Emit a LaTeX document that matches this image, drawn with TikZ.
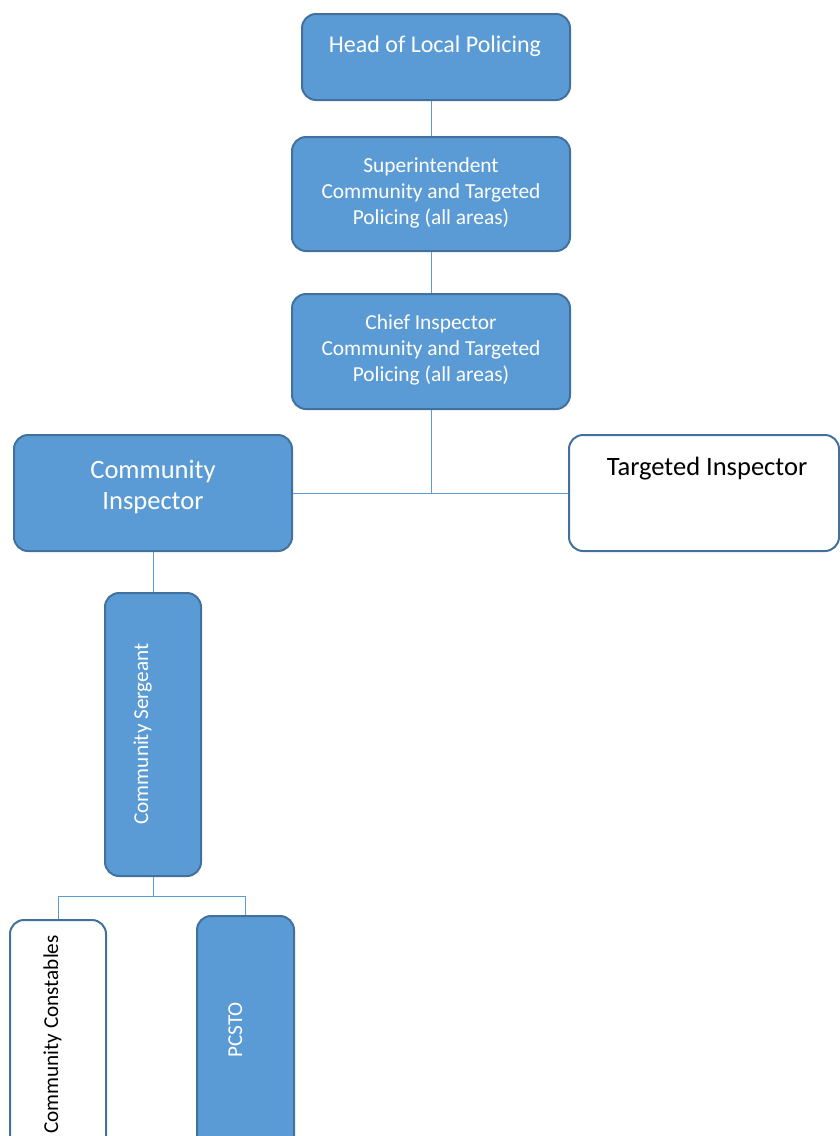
\documentclass[tikz,border=0pt]{standalone}
\usepackage{fontspec}
\setmainfont{Carlito}
\definecolor{boxblue}{HTML}{5B9BD5}
\definecolor{edgeblue}{HTML}{41719C}

\begin{document}
\begin{tikzpicture}[
    x=1pt, y=-1pt,
    box/.style={draw=edgeblue, line width=2pt, rounded corners=14pt,
      fill=boxblue, inner sep=0pt},
    plainbox/.style={box, fill=white},
    wtxt/.style={text=white, align=center, inner sep=0pt},
    btxt/.style={text=black, align=center, inner sep=0pt},
    link/.style={draw=boxblue, line width=1pt}
  ]
    \useasboundingbox (0,0) rectangle (840,1136);
    % boxes
    \node[box, minimum width=268pt, minimum height=86pt] (head) at (436,57) {};
    \node[box, minimum width=278pt, minimum height=114pt] (super) at (431,194) {};
    \node[box, minimum width=278pt, minimum height=115pt] (chief) at (431,351.5) {};
    \node[box, minimum width=278pt, minimum height=116pt] (cinsp) at (153,493) {};
    \node[plainbox, minimum width=270pt, minimum height=116pt] (tinsp) at (704,493) {};
    \node[box, minimum width=96pt, minimum height=283pt] (serg) at (153,734.5) {};
    \node[plainbox, minimum width=96pt, minimum height=260pt] (const) at (58,1050) {};
    \node[box, minimum width=97pt, minimum height=264pt] (pcsto) at (245.5,1048) {};
    % texts
    \node[wtxt, anchor=base, font=\fontsize{24}{29}\selectfont] (headtxt) at (435,52) {Head of Local Policing};
    \node[wtxt, font=\fontsize{21.4}{26}\selectfont] (supertxt) at (431,193) {Superintendent\\Community and Targeted\\Policing (all areas)};
    \node[wtxt, font=\fontsize{21.4}{26}\selectfont] (chieftxt) at (431,350) {Chief Inspector\\Community and Targeted\\Policing (all areas)};
    \node[wtxt, font=\fontsize{26.5}{31}\selectfont] (cinsptxt) at (153,487) {Community\\Inspector};
    \node[btxt, anchor=base, font=\fontsize{26.5}{31}\selectfont] (tinsptxt) at (707,475) {Targeted Inspector};
    \node[wtxt, rotate=90, anchor=base, font=\fontsize{21.2}{25}\selectfont] (sergtxt) at (148,734) {Community Sergeant};
    \node[btxt, rotate=90, anchor=base east, font=\fontsize{21.2}{25}\selectfont] (consttxt) at (58,935) {Community Constables};
    \node[wtxt, rotate=90, anchor=base, font=\fontsize{21.2}{25}\selectfont] (pcstotxt) at (242,1030) {PCSTO};
    % connectors
    \coordinate (fork) at (153,896);
    \draw[link] (super.north |- head.south) -- (super.north);
    \draw[link] (super) -- (chief);
    \draw[link] (chief.south) -- (chief.south |- cinsp.east);
    \draw[link] (cinsp) -- (tinsp);
    \draw[link] (cinsp) -- (serg);
    \draw[link] (serg.south) -- (fork);
    \draw[link] (const.north) |- (fork) -| (pcsto.north);
  \end{tikzpicture}
\end{document}
